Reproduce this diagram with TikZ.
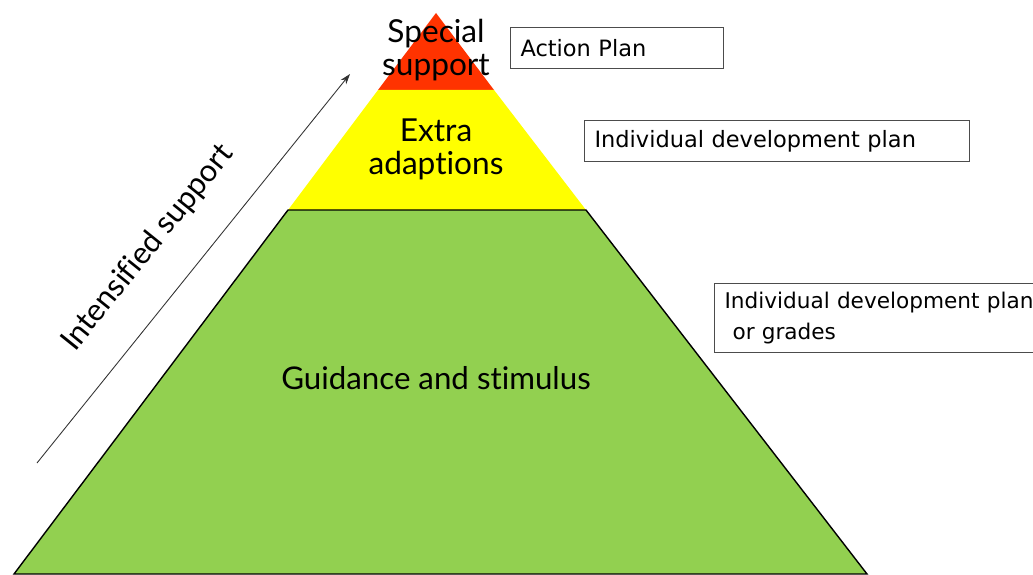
\documentclass[tikz,border=0pt]{standalone}
\usepackage{fontspec}
\setmainfont{DejaVu Sans}
\newfontfamily\levelfont[Ligatures=NoCommon]{Lato}
\usetikzlibrary{arrows.meta}
\definecolor{topred}{HTML}{FF3300}
\definecolor{midyellow}{HTML}{FFFF00}
\definecolor{basegreen}{HTML}{92D050}
\tikzset{
  level/.style={align=center,font=\levelfont\fontsize{18}{18.8}\selectfont},
  planbox/.style={draw=black!70,line width=0.6pt,anchor=north west,align=left,
    inner xsep=0.2cm,inner ysep=0pt,font=\fontsize{12.8}{18}\selectfont}
}
\begin{document}
\begin{tikzpicture}[x=0.02cm,y=-0.02cm]
\useasboundingbox (0,0) rectangle (1033,574);
% pyramid
\coordinate (T) at (436,13);
\coordinate (RL) at (378,90);
\coordinate (RR) at (494,90);
\coordinate (YL) at (288,210);
\coordinate (YR) at (586,210);
\coordinate (GL) at (14,574);
\coordinate (GR) at (867,574);
\fill[topred] (T) -- (RR) -- (RL) -- cycle;
\fill[midyellow] (RL) -- (RR) -- (YR) -- (YL) -- cycle;
\draw[fill=basegreen,line width=0.8pt] (YL) -- (YR) -- (GR) -- (GL) -- cycle;
\node[level] (special) at (436,50) {Special\\support};
\node[level] (extra) at (436,149) {Extra\\adaptions};
\node[level,font=\levelfont\fontsize{17.8}{19}\selectfont] (guide) at (436,378) {Guidance and stimulus};
% plans
\node[planbox,text width=3.86cm,minimum height=0.82cm] (action) at (510,27)
  {Action Plan};
\node[planbox,text width=7.3cm,minimum height=0.82cm] (idp) at (584,120)
  {Individual development plan};
\node[planbox,text width=6.8cm,minimum height=1.38cm,font=\fontsize{12.3}{18}\selectfont] (grades) at (714,283)
  {Individual development plan\\\hspace{0.16cm}or grades};
% arrow
\coordinate (low) at (37,463);
\coordinate (high) at (350,74);
\draw[-{Stealth[length=6pt,width=4pt]},black!80,line width=0.5pt] (low) -- (high);
\node[font=\levelfont\fontsize{17.5}{19}\selectfont,rotate=51.2] (intens) at (148,248)
  {Intensified support};
\end{tikzpicture}
\end{document}
